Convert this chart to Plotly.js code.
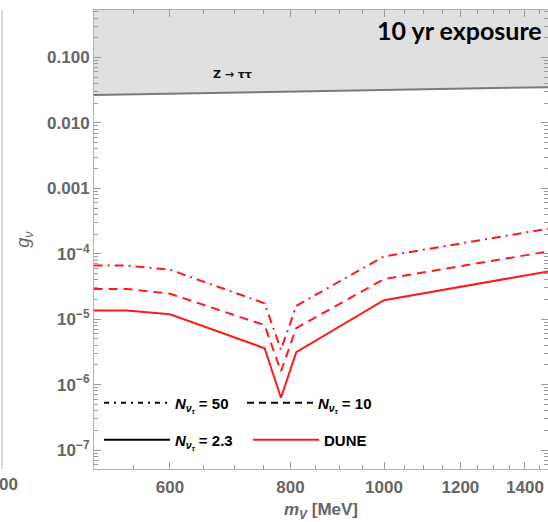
<!DOCTYPE html>
<html>
<head>
<meta charset="utf-8">
<script src="https://cdn.plot.ly/plotly-3.0.1.min.js"></script>
<style>
  html, body { margin: 0; padding: 0; background: #ffffff; overflow: hidden; }
  #chart { width: 548px; height: 522px; }
</style>
</head>
<body>
<div id="chart"></div>
<script>
// ---- data ----
const massMeV   = [500, 541, 600, 752, 782, 811, 1000, 1500];
const gN2p3     = [1.36e-5, 1.36e-5, 1.19e-5, 3.6e-6, 6.3e-7, 3.13e-6, 1.95e-5, 5.55e-5];
const gN10      = [2.9e-5, 2.9e-5, 2.45e-5, 8.1e-6, 1.6e-6, 7.3e-6, 4.1e-5, 1.12e-4];
const gN50      = [6.6e-5, 6.6e-5, 5.7e-5, 1.75e-5, 3.4e-6, 1.6e-5, 9.1e-5, 2.5e-4];
const zMass     = [500, 1500];
const zBound    = [0.0267, 0.0353];
const zTop      = [1, 1];

const xTickVals = [600, 800, 1000, 1200, 1400];
const xTickText = ['600', '800', '1000', '1200', '1400'];
const yTickVals = [0.1, 0.01, 0.001, 1e-4, 1e-5, 1e-6, 1e-7];
const yTickText = ['0.100', '0.010', '0.001', '10<sup>\u22124</sup>', '10<sup>\u22125</sup>', '10<sup>\u22126</sup>', '10<sup>\u22127</sup>'];

const legendLabels = [
  '<i>N</i><sub><i>\u03bd<sub>\u03c4</sub></i></sub> = 50',
  '<i>N</i><sub><i>\u03bd<sub>\u03c4</sub></i></sub> = 10',
  '<i>N</i><sub><i>\u03bd<sub>\u03c4</sub></i></sub> = 2.3',
  'DUNE'
];

// ---- axis minor tick positions ----
const xMinor = [];
for (let v = 550; v <= 1450; v += 50) { if (xTickVals.indexOf(v) < 0) xMinor.push(v); }
const yMinor = [];
for (let e = -8; e <= 0; e++) { for (let k = 2; k <= 9; k++) yMinor.push(k * Math.pow(10, e)); }

const red = '#ff1a1a';
const gray = '#666666';
const fontFam = 'Liberation Sans, Arial, sans-serif';

const traces = [
  { // excluded region Z -> tau tau
    x: zMass.concat(zMass.slice().reverse()),
    y: zBound.concat(zTop.slice().reverse()),
    mode: 'lines', fill: 'toself', fillcolor: '#e0e0e0',
    line: { width: 0 }, hoverinfo: 'skip', showlegend: false
  },
  {
    x: zMass, y: zBound, mode: 'lines',
    line: { color: '#7a7a7a', width: 2 }, showlegend: false
  },
  {
    x: massMeV, y: gN50, mode: 'lines',
    line: { color: red, width: 2, dash: '9px,5px,2px,5px' }, showlegend: false
  },
  {
    x: massMeV, y: gN10, mode: 'lines',
    line: { color: red, width: 2, dash: '9px,6px' }, showlegend: false
  },
  {
    x: massMeV, y: gN2p3, mode: 'lines',
    line: { color: red, width: 2 }, showlegend: false
  },
  // legend entries
  { x: [null], y: [null], mode: 'lines', name: legendLabels[0], legend: 'legend',
    line: { color: '#000', width: 2, dash: '5px,5px,2px,5px' } },
  { x: [null], y: [null], mode: 'lines', name: legendLabels[1], legend: 'legend',
    line: { color: '#000', width: 2, dash: '7px,5px' } },
  { x: [null], y: [null], mode: 'lines', name: legendLabels[2], legend: 'legend2',
    line: { color: '#000', width: 2 } },
  { x: [null], y: [null], mode: 'lines', name: legendLabels[3], legend: 'legend2',
    line: { color: red, width: 2 } }
];

const tickFont = { family: fontFam, size: 17, color: gray, weight: 'bold' };
const legFont = { family: fontFam, size: 15, color: '#000', weight: 'bold' };

const baseLegend = {
  orientation: 'h', xanchor: 'left', yanchor: 'middle',
  entrywidthmode: 'pixels', itemwidth: 66,
  font: legFont, bgcolor: 'rgba(0,0,0,0)', traceorder: 'normal'
};

const layout = {
  width: 548, height: 522,
  margin: { l: 94, r: 0, t: 10, b: 53 },
  paper_bgcolor: '#ffffff', plot_bgcolor: '#ffffff',
  showlegend: true,
  xaxis: {
    type: 'log', range: [2.6994, 3.170],
    tickmode: 'array', tickvals: xTickVals, ticktext: xTickText,
    ticks: 'inside', ticklen: 7, tickwidth: 1, tickcolor: '#9a9a9a',
    ticklabelstandoff: 3,
    showline: true, linecolor: '#b0b0b0', linewidth: 1, mirror: 'ticks',
    showgrid: false, zeroline: false,
    tickfont: tickFont,
    minor: { tickmode: 'array', tickvals: xMinor, ticks: 'inside', ticklen: 4, tickcolor: '#9a9a9a', showgrid: false },
    title: { text: '<i>m</i><sub><i>V</i></sub> [MeV]', font: { family: fontFam, size: 17, color: gray, weight: 'bold' }, standoff: 13 }
  },
  yaxis: {
    type: 'log', range: [-7.29, -0.275],
    tickmode: 'array', tickvals: yTickVals, ticktext: yTickText,
    ticks: 'inside', ticklen: 7, tickwidth: 1, tickcolor: '#9a9a9a',
    showline: true, linecolor: '#b0b0b0', linewidth: 1, mirror: 'ticks',
    showgrid: false, zeroline: false,
    tickfont: tickFont,
    minor: { tickmode: 'array', tickvals: yMinor, ticks: 'inside', ticklen: 4, tickcolor: '#9a9a9a', showgrid: false },
    title: { text: '<i>g</i><sub><i>\u03bd</i></sub>', font: { family: fontFam, size: 18, color: gray }, standoff: 12 }
  },
  legend: Object.assign({}, baseLegend, { x: 0.011, y: 0.1436, entrywidth: 62 }),
  legend2: Object.assign({}, baseLegend, { x: 0.011, y: 0.0631, entrywidth: 68 }),
  annotations: [
    { xref: 'paper', yref: 'paper', x: 0.306, y: 0.8596, xanchor: 'center', yanchor: 'middle',
      text: '<b>Z \u2192 \u03c4\u03c4</b>',
      showarrow: false, font: { family: 'DejaVu Sans, sans-serif', size: 11, color: '#111' } },
    { xref: 'paper', yref: 'paper', x: 0.806, y: 0.956, xanchor: 'center', yanchor: 'middle',
      text: '<b>10 yr exposure</b>',
      showarrow: false, font: { family: 'Lato, sans-serif', size: 25, color: '#000' } },
    { xref: 'paper', yref: 'paper', x: -0.189, y: -0.0348, xanchor: 'center', yanchor: 'middle',
      text: '00', showarrow: false, font: tickFont }
  ],
  shapes: [
    { type: 'line', xref: 'paper', yref: 'paper', x0: -0.2026, x1: -0.2026, y0: 0, y1: 1,
      line: { color: '#b0b0b0', width: 1 } }
  ]
};

Plotly.newPlot('chart', traces, layout, { displayModeBar: false, staticPlot: true });
</script>
</body>
</html>
